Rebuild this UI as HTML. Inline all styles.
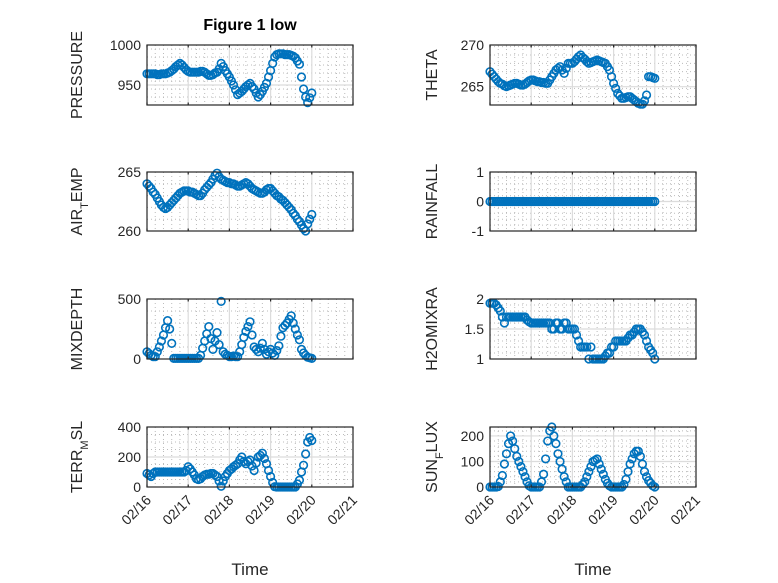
<!DOCTYPE html>
<html><head><meta charset="utf-8"><style>
body{margin:0;background:#fff;}
svg{display:block;font-family:"Liberation Sans",sans-serif;}
</style></head><body>
<svg id="fig" width="778" height="583" viewBox="0 0 778 583"></svg>
<script>
const days = [0,0.05,0.1,0.15,0.2,0.25,0.3,0.35,0.4,0.45,0.5,0.55,0.6,0.65,0.7,0.75,0.8,0.85,0.9,0.95,1.0,1.05,1.1,1.15,1.2,1.25,1.3,1.35,1.4,1.45,1.5,1.55,1.6,1.65,1.7,1.75,1.8,1.85,1.9,1.95,2.0,2.05,2.1,2.15,2.2,2.25,2.3,2.35,2.4,2.45,2.5,2.55,2.6,2.65,2.7,2.75,2.8,2.85,2.9,2.95,3.0,3.05,3.1,3.15,3.2,3.25,3.3,3.35,3.4,3.45,3.5,3.55,3.6,3.65,3.7,3.75,3.8,3.85,3.9,3.95,4.0];
const xTickLabels = ["02/16","02/17","02/18","02/19","02/20","02/21"];
const pressure = [964,964,964,964,964,963,963,964,964,964,965,966,968,970,973,975,977,975,972,969,967,966,966,966,966,966,967,967,966,964,962,962,963,965,966,970,977,973,968,964,960,955,950,944,938,940,942,945,948,950,952,948,945,940,935,938,942,947,952,960,968,977,985,988,989,989,989,988,988,988,987,986,984,980,976,960,945,935,928,934,940];
const theta = [266.8,266.5,266.2,265.9,265.6,265.4,265.3,265.1,265.0,265.1,265.2,265.3,265.4,265.4,265.3,265.2,265.2,265.3,265.5,265.7,265.8,265.8,265.7,265.6,265.6,265.5,265.5,265.4,265.4,265.8,266.2,266.6,267.0,267.2,267.4,267.0,266.6,267.2,267.8,267.8,267.8,268.0,268.3,268.6,268.8,268.5,268.3,268.0,267.8,267.9,268.0,268.1,268.2,268.1,268.0,267.9,267.8,267.4,267.0,266.2,265.4,264.8,264.2,263.9,263.6,263.6,263.7,263.8,263.8,263.6,263.4,263.2,263.0,262.9,262.9,263.3,264.0,266.2,266.2,266.1,266.0];
const airTemp = [264.0,263.8,263.6,263.3,263.1,262.8,262.5,262.2,262.0,261.9,262.0,262.2,262.4,262.6,262.8,263.0,263.2,263.3,263.4,263.4,263.4,263.3,263.3,263.2,263.1,263.0,263.0,263.2,263.5,263.7,263.9,264.1,264.4,264.7,264.9,264.6,264.4,264.3,264.2,264.1,264.1,264.0,264.0,263.9,263.8,263.8,263.9,264.0,264.1,264.0,263.8,263.6,263.5,263.4,263.3,263.2,263.2,263.3,263.5,263.6,263.6,263.4,263.2,263.0,262.9,262.7,262.6,262.4,262.2,262.0,261.8,261.5,261.3,261.0,260.8,260.5,260.2,260.0,260.6,261.0,261.4];
const rainfall = [0,0,0,0,0,0,0,0,0,0,0,0,0,0,0,0,0,0,0,0,0,0,0,0,0,0,0,0,0,0,0,0,0,0,0,0,0,0,0,0,0,0,0,0,0,0,0,0,0,0,0,0,0,0,0,0,0,0,0,0,0,0,0,0,0,0,0,0,0,0,0,0,0,0,0,0,0,0,0,0,0];
const mixDepth = [60,45,30,20,20,60,100,150,200,260,320,250,130,5,5,5,5,5,5,5,5,5,5,5,5,5,30,90,150,210,270,170,80,150,220,120,480,60,40,30,20,20,25,20,20,60,120,180,230,270,310,200,100,80,60,90,130,80,40,60,80,50,30,70,110,190,260,280,300,330,360,300,250,200,160,80,50,30,15,10,5];
const h2oMix = [1.93,1.93,1.93,1.9,1.85,1.8,1.7,1.6,1.7,1.7,1.7,1.7,1.7,1.7,1.7,1.7,1.7,1.7,1.65,1.62,1.6,1.6,1.6,1.6,1.6,1.6,1.6,1.6,1.6,1.6,1.5,1.5,1.6,1.6,1.5,1.5,1.6,1.6,1.5,1.5,1.5,1.5,1.4,1.3,1.2,1.2,1.2,1.2,1.0,1.2,1.0,1.0,1.0,1.0,1.0,1.0,1.05,1.1,1.1,1.2,1.2,1.3,1.3,1.3,1.3,1.3,1.3,1.35,1.4,1.4,1.45,1.5,1.5,1.5,1.45,1.4,1.3,1.2,1.15,1.1,1.0];
const terrMsl = [90,80,70,90,100,100,100,100,100,100,100,100,100,100,100,100,100,100,100,110,135,120,100,80,55,50,55,70,80,85,85,90,90,80,70,40,5,40,70,90,110,120,135,145,155,180,200,170,155,170,180,140,110,160,200,210,225,190,155,110,70,30,2,0,0,0,0,0,0,0,0,0,0,20,45,100,145,220,300,330,310];
const sunFlux = [0,0,0,0,2,20,45,90,130,170,200,180,150,120,100,80,60,40,20,5,0,0,0,0,0,20,50,110,180,220,235,200,170,130,100,70,40,20,0,0,0,0,0,0,0,10,20,40,60,80,100,105,110,90,70,50,30,15,5,0,0,0,0,0,0,10,30,60,90,110,130,140,140,120,90,60,40,25,15,5,0];

const svg = document.getElementById('fig');
const NS = 'http://www.w3.org/2000/svg';
function mk(tag, attrs, parent){const e=document.createElementNS(NS,tag);for(const k in attrs)e.setAttribute(k,attrs[k]);(parent||svg).appendChild(e);return e;}

const L=[147,353], R=[490,696];
const rows=[[45,105],[172,231],[299,359],[427,487]];

function panel(name, xr, yr, ylim, yticks, yminor, values, labelHTML, labelX, showX){
  const g = mk('g',{});
  
  
  const xs = d => xr[0] + (d/5)*(xr[1]-xr[0]);
  const ys = v => yr[1] - (v-ylim[0])/(ylim[1]-ylim[0])*(yr[1]-yr[0]);
  mk('rect',{x:xr[0],y:yr[0],width:xr[1]-xr[0],height:yr[1]-yr[0],fill:'#fff'},g);
  for(let d=0.2; d<5; d+=0.2){ if(Math.abs(d-Math.round(d))<1e-6) continue;
    mk('line',{x1:xs(d),x2:xs(d),y1:yr[0],y2:yr[1],stroke:'#bbb','stroke-width':1,'stroke-dasharray':'1 3'},g);}
  for(let v=ylim[0]; v<=ylim[1]+1e-9; v+=yminor){ if(yticks.some(t=>Math.abs(t-v)<1e-9)) continue;
    mk('line',{x1:xr[0],x2:xr[1],y1:ys(v),y2:ys(v),stroke:'#bbb','stroke-width':1,'stroke-dasharray':'1 3'},g);}
  for(let d=1; d<5; d++) mk('line',{x1:xs(d),x2:xs(d),y1:yr[0],y2:yr[1],stroke:'#dcdcdc','stroke-width':1.2},g);
  yticks.forEach(v=>{ if(v>ylim[0]&&v<ylim[1]) mk('line',{x1:xr[0],x2:xr[1],y1:ys(v),y2:ys(v),stroke:'#dcdcdc','stroke-width':1.2},g);});
  days.forEach((d,i)=>{
    const c = mk('circle',{cx:xs(d),cy:ys(values[i]),r:3.8,fill:'none',stroke:'#0072BD','stroke-width':1.6},g);
    
    
  });
  mk('rect',{x:xr[0],y:yr[0],width:xr[1]-xr[0],height:yr[1]-yr[0],fill:'none',stroke:'#262626','stroke-width':1.2},g);
  for(let d=0; d<=5; d++){
    mk('line',{x1:xs(d),x2:xs(d),y1:yr[1],y2:yr[1]-2.5,stroke:'#262626','stroke-width':1.2},g);
    mk('line',{x1:xs(d),x2:xs(d),y1:yr[0],y2:yr[0]+2.5,stroke:'#262626','stroke-width':1.2},g);
  }
  yticks.forEach(v=>{
    const t = mk('text',{x:xr[0]-6,y:ys(v)+5,'text-anchor':'end','font-size':14,fill:'#262626'},g);
    t.textContent = String(v);
    
    
  });
  const lab = mk('text',{x:labelX,y:(yr[0]+yr[1])/2,'text-anchor':'middle','font-size':16,fill:'#262626',transform:`rotate(-90 ${labelX} ${(yr[0]+yr[1])/2})`},g);
  lab.innerHTML = labelHTML;
  
  
  if(showX){
    xTickLabels.forEach((s,d)=>{
      const x=xs(d)+5, y=yr[1]+14;
      const t = mk('text',{x:x,y:y,'text-anchor':'end','font-size':14,fill:'#262626',transform:`rotate(-45 ${x} ${y})`},g);
      t.textContent = s;
      
      
    });
    const tl = mk('text',{x:(xr[0]+xr[1])/2,y:575,'text-anchor':'middle','font-size':17,fill:'#262626'},g);
    tl.textContent='Time';
    
    
  }
}
const sub = s => `<tspan baseline-shift="sub" font-size="11">${s}</tspan>`;
panel('pressure',L,rows[0],[925,1000],[950,1000],10,pressure,'PRESSURE',82,false);
panel('theta',R,rows[0],[262.8,270],[265,270],1,theta,'THETA',437,false);
panel('air-temp',L,rows[1],[260,265],[260,265],1,airTemp,'AIR'+sub('T')+'EMP',82,false);
panel('rainfall',R,rows[1],[-1,1],[-1,0,1],0.2,rainfall,'RAINFALL',437,false);
panel('mixdepth',L,rows[2],[0,500],[0,500],100,mixDepth,'MIXDEPTH',82,false);
panel('h2omixra',R,rows[2],[1,2],[1,1.5,2],0.1,h2oMix,'H2OMIXRA',437,false);
panel('terr-msl',L,rows[3],[0,400],[0,200,400],50,terrMsl,'TERR'+sub('M')+'SL',82,true);
panel('sun-flux',R,rows[3],[0,235],[0,100,200],20,sunFlux,'SUN'+sub('F')+'LUX',437,true);

const title = mk('text',{x:250,y:30,'text-anchor':'middle','font-size':16,'font-weight':'bold',fill:'#000'});
title.textContent='Figure 1 low';


</script>
</body></html>
